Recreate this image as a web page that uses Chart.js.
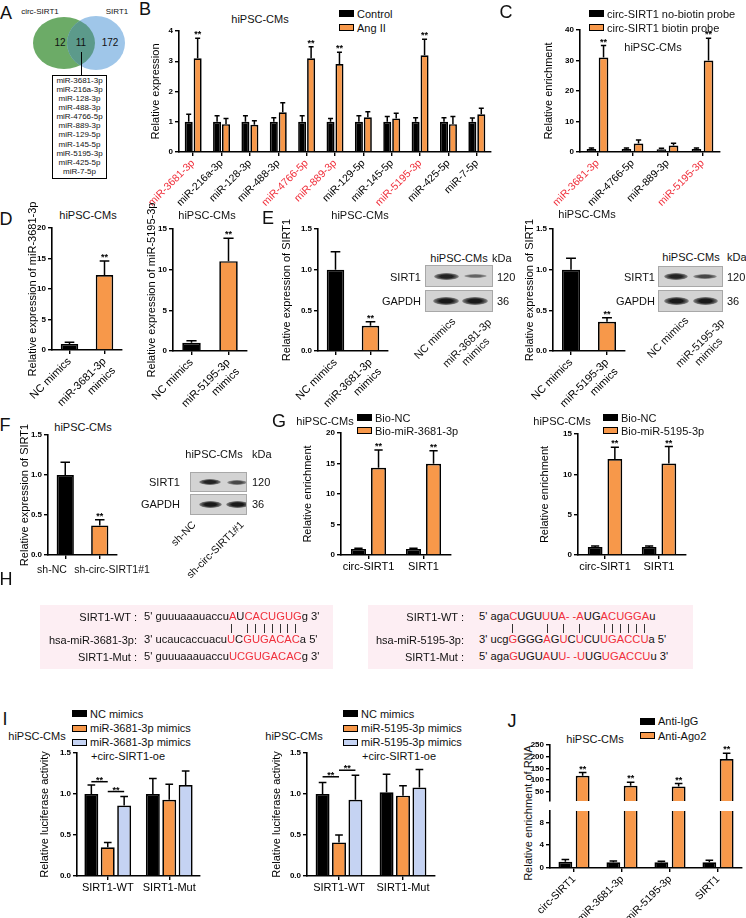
<!DOCTYPE html>
<html>
<head>
<meta charset="utf-8">
<title>circ-SIRT1 figure</title>
<script src="https://cdn.jsdelivr.net/npm/chart.js@4.4.1/dist/chart.umd.min.js"></script>
<style>
  html, body { margin: 0; padding: 0; background: #fff; }
  body { position: relative; width: 746px; height: 918px; overflow: hidden;
         font-family: "Liberation Sans", Arial, sans-serif; color: #111; }
  canvas { position: absolute; }
  .t { position: absolute; white-space: nowrap; line-height: 1; }
  .r { color: #f0303c; }
</style>
</head>
<body>
<svg style="position:absolute;left:0;top:0" width="140" height="75">
  <defs><clipPath id="cg"><ellipse cx="64" cy="43" rx="31" ry="26"/></clipPath></defs>
  <ellipse cx="64" cy="43" rx="31" ry="26" fill="#6cab67"/>
  <ellipse cx="96" cy="43" rx="29" ry="27" fill="#9fc6e9"/>
  <ellipse cx="96" cy="43" rx="29" ry="27" fill="#5c9a8b" clip-path="url(#cg)"/>
</svg>
<script>
// ---- data ----
const vennCounts = [12, 11, 172];
const vennMirs = ['miR-3681-3p','miR-216a-3p','miR-128-3p','miR-488-3p','miR-4766-5p','miR-889-3p',
                  'miR-129-5p','miR-145-5p','miR-5195-3p','miR-425-5p','miR-7-5p'];

const bCats = ['miR-3681-3p','miR-216a-3p','miR-128-3p','miR-488-3p','miR-4766-5p','miR-889-3p',
               'miR-129-5p','miR-145-5p','miR-5195-3p','miR-425-5p','miR-7-5p'];
const bRed = [0, 4, 5, 8];
const bCtrl = [1, 1, 1, 1, 1, 1, 1, 1, 1, 1, 1];
const bCtrlErr = [0.25, 0.2, 0.2, 0.13, 0.2, 0.11, 0.2, 0.17, 0.13, 0.13, 0.12];
const bAng = [3.1, 0.92, 0.9, 1.31, 3.1, 2.91, 1.15, 1.11, 3.2, 0.92, 1.25];
const bAngErr = [0.66, 0.19, 0.13, 0.32, 0.38, 0.39, 0.18, 0.17, 0.53, 0.25, 0.2];
const bSig = [1, 0, 0, 0, 1, 1, 0, 0, 1, 0, 0];

const cCats = ['miR-3681-3p','miR-4766-5p','miR-889-3p','miR-5195-3p'];
const cRed = [0, 3];
const cNo = [1, 1, 0.9, 1];
const cNoErr = [0.3, 0.3, 0.3, 0.3];
const cBio = [31, 2.8, 2.1, 30];
const cBioErr = [3.9, 1.1, 0.8, 7.3];
const cSig = [1, 0, 0, 1];

const d1Cats = ['NC mimics', ['miR-3681-3p', 'mimics']];
const d1Vals = [1.0, 12.3];
const d1Err = [0.27, 2.3];
const d2Cats = ['NC mimics', ['miR-5195-3p', 'mimics']];
const d2Vals = [1.0, 11.05];
const d2Err = [0.27, 2.8];
const twoSig = [0, 1];

const e1Vals = [1.0, 0.31];
const e1Err = [0.22, 0.05];
const e2Vals = [1.0, 0.36];
const e2Err = [0.14, 0.05];

const fCats = ['sh-NC', 'sh-circ-SIRT1#1'];
const fVals = [1.0, 0.37];
const fErr = [0.16, 0.07];

const gCats = ['circ-SIRT1', 'SIRT1'];
const g1Nc = [1.0, 1.0];
const g1NcErr = [0.12, 0.1];
const g1Mir = [14.3, 14.95];
const g1MirErr = [2.9, 2.15];
const g2Nc = [1.0, 1.0];
const g2NcErr = [0.12, 0.12];
const g2Mir = [11.9, 11.35];
const g2MirErr = [1.45, 2.1];
const gSig = [1, 1];

const hLeftNames = ['SIRT1-WT :', 'hsa-miR-3681-3p:', 'SIRT1-Mut :'];
const hLeft = ["5' guuuaaauaccu{A}U{CACUGUG}g 3'", "3' ucaucaccuacu{U}C{GUGACAC}a 5'", "5' guuuaaauaccu{UCGUGACAC}g 3'"];
const hRightNames = ['SIRT1-WT :', 'hsa-miR-5195-3p:', 'SIRT1-Mut :'];
const hRight = ["5' aga{C}UGU{U}U{A- -A}UG{ACUGGA}u", "3' ucg{G}GGG{A}G{U}C{U}CU{UGACCU}a 5'", "5' aga{G}UGU{A}U{U- -U}UG{UGACCU}u 3'"];

const iCats = ['SIRT1-WT', 'SIRT1-Mut'];
const i1Nc = [1.0, 1.0];
const i1NcErr = [0.11, 0.19];
const i1Mim = [0.35, 0.93];
const i1MimErr = [0.06, 0.19];
const i1Oe = [0.86, 1.11];
const i1OeErr = [0.11, 0.17];
const i1Brackets = [[0, 0, 1, 1.15], [0, 1, 2, 1.03]];
const i2Nc = [1.0, 1.02];
const i2NcErr = [0.14, 0.22];
const i2Mim = [0.41, 0.98];
const i2MimErr = [0.09, 0.12];
const i2Oe = [0.93, 1.08];
const i2OeErr = [0.3, 0.22];
const i2Brackets = [[0, 0, 1, 1.21], [0, 1, 2, 1.29]];

const jCats = ['circ-SIRT1', 'miR-3681-3p', 'miR-5195-3p', 'SIRT1'];
const jIgG = [1.1, 1.0, 1.0, 1.0];
const jIgGErr = [0.4, 0.25, 0.2, 0.35];
const jAgo = [118, 75, 72, 190];
const jAgoErr = [14, 15, 13, 25];
const jSig = [1, 1, 1, 1];

// ---- helpers ----
const BK = '#000', OR = '#f7984a', LB = '#c5d3f3', RED = '#f0303c';
Chart.defaults.font.family = "'Liberation Sans', Arial, sans-serif";
Chart.defaults.color = '#000';

function T(s, x, y, fs, al) {
  const d = document.createElement('div');
  d.className = 't';
  d.innerHTML = s;
  const tf = al === 'c' ? 'translate(-50%,-50%)' : al === 'r' ? 'translate(-100%,-50%)' : 'translate(0,-50%)';
  d.style.left = x + 'px';
  d.style.top = y + 'px';
  d.style.fontSize = fs + 'px';
  d.style.transform = tf;
  document.body.appendChild(d);
  return d;
}
function R(s, x, y, fs) {
  const d = document.createElement('div');
  d.className = 't';
  d.innerHTML = s;
  d.style.cssText += `left:${x}px;top:${y}px;font-size:${fs}px;text-align:center;line-height:1.1;` +
    'transform-origin:100% 0;transform:translateX(-100%) rotate(-45deg);';
  document.body.appendChild(d);
}
function L(x, y, col, label, fs) {
  const b = document.createElement('div');
  b.style.cssText = `position:absolute;left:${x}px;top:${y - 3.5}px;width:15px;height:7px;background:${col};border:1.3px solid #000;box-sizing:border-box`;
  document.body.appendChild(b);
  T(label, x + 18, y, fs || 11, 'l');
}
function box(x, y, w, h, css) {
  const d = document.createElement('div');
  d.style.cssText = `position:absolute;left:${x}px;top:${y}px;width:${w}px;height:${h}px;` + css;
  document.body.appendChild(d);
  return d;
}
function blot(x, y, w, h, bands) {
  const d = box(x, y, w, h, 'background:#d3d3d3;border:1px solid #a8a8a8;box-sizing:border-box;overflow:hidden');
  bands.forEach(([cx, bw, bh, a]) => {
    const b = document.createElement('div');
    b.style.cssText = `position:absolute;left:${cx - x - bw / 2}px;top:${h / 2 - bh / 2 - 1}px;width:${bw}px;height:${bh}px;border-radius:50%;` +
      `background:radial-gradient(ellipse at center, rgba(25,25,25,${a}) 35%, rgba(25,25,25,${a * 0.55}) 62%, rgba(25,25,25,0) 78%)`;
    d.appendChild(b);
  });
}
function seqHtml(s) {
  return s.replace(/\{([^}]*)\}/g, (m, g) => g.split('').map(ch => '<span class="r">' + ch + '</span>').join(''));
}
function pipes(el, y) {
  el.querySelectorAll('.r').forEach(s => {
    const r = s.getBoundingClientRect();
    box((r.left + r.right) / 2 - 0.5, y, 1, 9, 'background:#333');
  });
}

function errPlug(brackets) {
  return {
    id: 'errs',
    afterDatasetsDraw(chart) {
      const ctx = chart.ctx, ys = chart.scales.y;
      ctx.save();
      ctx.strokeStyle = '#000';
      ctx.fillStyle = '#000';
      ctx.lineWidth = 1.5;
      ctx.font = "bold 9px 'Liberation Sans'";
      ctx.textAlign = 'center';
      ctx.textBaseline = 'alphabetic';
      chart.data.datasets.forEach((ds, i) => {
        chart.getDatasetMeta(i).data.forEach((bar, j) => {
          const v = ds.data[j], e = ds.err ? ds.err[j] : 0;
          if (v < ys.min || v > ys.max) return;
          const yv = ys.getPixelForValue(v), yt = ys.getPixelForValue(v + e);
          const cw = Math.max(5, bar.width * 0.55);
          if (e > 0) {
            ctx.beginPath();
            ctx.moveTo(bar.x, yv); ctx.lineTo(bar.x, yt);
            ctx.moveTo(bar.x - cw / 2, yt); ctx.lineTo(bar.x + cw / 2, yt);
            ctx.stroke();
          }
          if (ds.sig && ds.sig[j]) ctx.fillText('**', bar.x, yt - 1);
        });
      });
      (brackets || []).forEach(([cat, a, b, v]) => {
        const pa = chart.getDatasetMeta(a).data[cat], pb = chart.getDatasetMeta(b).data[cat];
        const y = ys.getPixelForValue(v);
        ctx.beginPath(); ctx.moveTo(pa.x, y); ctx.lineTo(pb.x, y); ctx.stroke();
        ctx.fillText('**', (pa.x + pb.x) / 2, y + 1);
      });
      ctx.restore();
    }
  };
}

// o: canvas box (cl,ct,cr,cb) and plot area (x0,x1,y0,y1) in page pixels
function mk(o) {
  const c = document.createElement('canvas');
  c.width = o.cr - o.cl;
  c.height = o.cb - o.ct;
  c.style.left = o.cl + 'px';
  c.style.top = o.ct + 'px';
  document.body.appendChild(c);
  return new Chart(c.getContext('2d'), {
    type: 'bar',
    data: { labels: o.labels, datasets: o.sets },
    options: {
      responsive: false,
      animation: false,
      events: [],
      layout: { padding: { top: o.y0 - o.ct, right: o.cr - o.x1, bottom: o.noX ? o.cb - o.y1 : 0, left: 0 } },
      plugins: { legend: { display: false }, tooltip: { enabled: false } },
      datasets: { bar: { categoryPercentage: o.cp, barPercentage: o.bp, borderColor: '#000', borderWidth: 1.7, clip: o.clip } },
      scales: {
        x: {
          display: !o.noX,
          grid: { offset: false, drawOnChartArea: false, drawTicks: true, tickLength: 4, color: '#000', lineWidth: 1.4 },
          border: { color: '#000', width: 1.6 },
          ticks: { display: !o.noXLabels, autoSkip: false, maxRotation: o.rot || 0, minRotation: o.rot || 0, padding: 1,
                   color: o.xColor || '#000', font: { size: o.xfs || 11 } },
          afterFit: s => { s.height = o.noX ? 0 : o.cb - o.y1; s.paddingLeft = 0; s.paddingRight = 0; s.paddingTop = 0; s.paddingBottom = 0; }
        },
        y: {
          min: o.min, max: o.max,
          grid: { drawOnChartArea: false, tickLength: 4, color: '#000', lineWidth: 1.4 },
          border: { color: '#000', width: 1.6 },
          ticks: { stepSize: o.step, padding: 2, includeBounds: false, font: { size: 8, weight: 'bold' },
                   callback: o.fmt || (v => v) },
          title: o.yt ? { display: true, text: o.yt, font: { size: 11 }, padding: 0 } : { display: false },
          afterFit: s => { s.width = o.x0 - o.cl; s.paddingTop = 0; s.paddingBottom = 0; s.paddingLeft = 0; s.paddingRight = 0; }
        }
      }
    },
    plugins: [errPlug(o.br)]
  });
}
const f1 = v => v.toFixed(1);

// ---- A: Venn ----
T('A', 6, 13, 18, 'c');
T('circ-SIRT1', 40, 12, 8, 'c');
T('SIRT1', 117, 12, 8, 'c');
T(vennCounts[0], 60, 43, 10, 'c');
T(vennCounts[1], 81, 43, 10, 'c');
T(vennCounts[2], 110, 43, 10, 'c');
box(80.5, 52, 1, 23, 'background:#000');
box(52, 75, 55, 104, 'border:1px solid #000;box-sizing:border-box');
vennMirs.forEach((m, i) => T(m, 79.5, 80.5 + 9.15 * i, 8, 'c'));

// ---- B ----
T('B', 145, 9, 18, 'c');
T('hiPSC-CMs', 260, 19, 11, 'c');
L(339, 13.5, BK, 'Control');
L(339, 27.5, OR, 'Ang II');
mk({ cl: 149, ct: 20, cr: 500, cb: 210, x0: 179, x1: 491, y0: 31, y1: 152, min: 0, max: 4, step: 1,
     yt: 'Relative expression', labels: bCats, rot: 45, xfs: 10.5, cp: 0.63, bp: 0.9,
     xColor: c => bRed.includes(c.index) ? RED : '#000',
     sets: [{ data: bCtrl, err: bCtrlErr, backgroundColor: BK },
            { data: bAng, err: bAngErr, sig: bSig, backgroundColor: OR }] });

// ---- C ----
T('C', 506, 12, 18, 'c');
L(589, 13.5, BK, 'circ-SIRT1 no-biotin probe', 11);
L(589, 27.5, OR, 'circ-SIRT1 biotin probe', 11);
mk({ cl: 542, ct: 20, cr: 735, cb: 210, x0: 580, x1: 720, y0: 30, y1: 152, min: 0, max: 40, step: 10,
     yt: 'Relative enrichment', labels: cCats, rot: 45, xfs: 10.5, cp: 0.69, bp: 0.8,
     xColor: c => cRed.includes(c.index) ? RED : '#000',
     sets: [{ data: cNo, err: cNoErr, backgroundColor: BK },
            { data: cBio, err: cBioErr, sig: cSig, backgroundColor: OR }] });
T('hiPSC-CMs', 653, 47, 11, 'c');

// ---- D ----
T('D', 6, 219, 18, 'c');
T('hiPSC-CMs', 88, 215, 11, 'c');
T('hiPSC-CMs', 207, 215, 11, 'c');
mk({ cl: 26, ct: 190, cr: 135, cb: 415, x0: 52, x1: 122, y0: 228, y1: 350, min: 0, max: 20, step: 5,
     yt: 'Relative expression of miR-3681-3p', labels: d1Cats, rot: 45, cp: 1, bp: 0.5,
     sets: [{ data: d1Vals, err: d1Err, sig: twoSig, backgroundColor: [BK, OR] }] });
mk({ cl: 145, ct: 190, cr: 255, cb: 415, x0: 173, x1: 247, y0: 229, y1: 351, min: 0, max: 15, step: 5,
     yt: 'Relative expression of miR-5195-3p', labels: d2Cats, rot: 45, cp: 1, bp: 0.5,
     sets: [{ data: d2Vals, err: d2Err, sig: twoSig, backgroundColor: [BK, OR] }] });

// ---- E ----
T('E', 268, 218, 18, 'c');
T('hiPSC-CMs', 360, 215, 11, 'c');
T('hiPSC-CMs', 587, 214, 11, 'c');
mk({ cl: 280, ct: 190, cr: 395, cb: 415, x0: 318, x1: 388, y0: 229, y1: 351, min: 0, max: 1.5, step: 0.5, fmt: f1,
     yt: 'Relative expression of SIRT1', labels: d1Cats, rot: 45, cp: 1, bp: 0.5,
     sets: [{ data: e1Vals, err: e1Err, sig: twoSig, backgroundColor: [BK, OR] }] });
mk({ cl: 523, ct: 190, cr: 632, cb: 415, x0: 553, x1: 625, y0: 229, y1: 351, min: 0, max: 1.5, step: 0.5, fmt: f1,
     yt: 'Relative expression of SIRT1', labels: d2Cats, rot: 45, cp: 1, bp: 0.5,
     sets: [{ data: e2Vals, err: e2Err, sig: twoSig, backgroundColor: [BK, OR] }] });
// E blots
T('hiPSC-CMs', 459, 258, 11, 'c'); T('kDa', 492, 258, 11, 'l');
blot(425, 265, 68, 22, [[445, 25, 7, 0.95], [474, 23, 4, 0.6]]);
blot(425, 290, 68, 22, [[445, 26, 8, 1], [474, 26, 8, 1]]);
T('SIRT1', 421, 277, 11, 'r'); T('GAPDH', 421, 301, 11, 'r');
T('120', 497, 277, 11, 'l'); T('36', 497, 301, 11, 'l');
R('NC mimics', 449, 315, 11); R('miR-3681-3p<br>mimics', 485, 316, 11);
T('hiPSC-CMs', 691, 257, 11, 'c'); T('kDa', 727, 257, 11, 'l');
blot(658, 266, 65, 21, [[675, 24, 7, 0.95], [704, 24, 5, 0.75]]);
blot(658, 290, 65, 22, [[675, 25, 8, 1], [704, 25, 8, 1]]);
T('SIRT1', 655, 277, 11, 'r'); T('GAPDH', 655, 301, 11, 'r');
T('120', 727, 277, 11, 'l'); T('36', 727, 301, 11, 'l');
R('NC mimics', 682, 314, 11); R('miR-5195-3p<br>mimics', 718, 316, 11);

// ---- F ----
T('F', 5, 425, 18, 'c');
T('hiPSC-CMs', 83, 427, 11, 'c');
mk({ cl: 18, ct: 410, cr: 125, cb: 580, x0: 48, x1: 117, y0: 435, y1: 555, min: 0, max: 1.5, step: 0.5, fmt: f1,
     yt: 'Relative expression of SIRT1', labels: fCats, noXLabels: true, cp: 1, bp: 0.5,
     sets: [{ data: fVals, err: fErr, sig: twoSig, backgroundColor: [BK, OR] }] });
T(fCats[0], 52, 569, 10.5, 'c');
T(fCats[1], 112, 569, 10.5, 'c');
T('hiPSC-CMs', 214, 454, 11, 'c'); T('kDa', 252, 454, 11, 'l');
blot(190, 472, 57, 20, [[209, 22, 6, 0.95], [236, 20, 5, 0.75]]);
blot(190, 494, 57, 21, [[209, 23, 7, 1], [236, 23, 7, 1]]);
T('SIRT1', 180, 482, 11, 'r'); T('GAPDH', 180, 504, 11, 'r');
T('120', 252, 482, 11, 'l'); T('36', 252, 504, 11, 'l');
R('sh-NC', 190, 519, 10.5); R('sh-circ-SIRT1#1', 238, 519, 10.5);

// ---- G ----
T('G', 279, 421, 18, 'c');
T('hiPSC-CMs', 325, 421, 11, 'c');
L(357, 417.5, BK, 'Bio-NC');
L(357, 430.5, OR, 'Bio-miR-3681-3p');
mk({ cl: 301, ct: 415, cr: 460, cb: 585, x0: 341, x1: 451, y0: 433, y1: 555, min: 0, max: 20, step: 5,
     yt: 'Relative enrichment', labels: gCats, cp: 0.73, bp: 0.75,
     sets: [{ data: g1Nc, err: g1NcErr, backgroundColor: BK },
            { data: g1Mir, err: g1MirErr, sig: gSig, backgroundColor: OR }] });
T('hiPSC-CMs', 562, 421, 11, 'c');
L(603, 417.5, BK, 'Bio-NC');
L(603, 430.5, OR, 'Bio-miR-5195-3p');
mk({ cl: 538, ct: 415, cr: 695, cb: 585, x0: 578, x1: 686, y0: 434, y1: 555, min: 0, max: 15, step: 5,
     yt: 'Relative enrichment', labels: gCats, cp: 0.73, bp: 0.75,
     sets: [{ data: g2Nc, err: g2NcErr, backgroundColor: BK },
            { data: g2Mir, err: g2MirErr, sig: gSig, backgroundColor: OR }] });

// ---- H ----
T('H', 6, 579, 18, 'c');
box(40, 605, 293, 64, 'background:#fdeef3');
box(368, 605, 325, 64, 'background:#fdeef3');
const hY = [617, 640, 657];
hLeft.forEach((s, i) => {
  T(hLeftNames[i], 137, hY[i], 11, 'r');
  const el = T(seqHtml(s), 144, hY[i], 11.2, 'l');
  if (i === 1) pipes(el, 624);
});
hRight.forEach((s, i) => {
  T(hRightNames[i], 464, hY[i], 11, 'r');
  const el = T(seqHtml(s), 479, hY[i], 11.2, 'l');
  if (i === 1) pipes(el, 624);
});

// ---- I ----
T('I', 5, 719, 18, 'c');
T('hiPSC-CMs', 37, 736, 11, 'c');
L(72, 713.5, BK, 'NC mimics');
L(72, 728, OR, 'miR-3681-3p mimics');
L(72, 742, LB, 'miR-3681-3p mimics');
T('+circ-SIRT1-oe', 91, 756, 11, 'l');
mk({ cl: 38, ct: 745, cr: 210, cb: 905, x0: 77, x1: 200, y0: 753, y1: 876, min: 0, max: 1.5, step: 0.5, fmt: f1,
     yt: 'Relative luciferase activity', labels: iCats, cp: 0.8, bp: 0.85, br: i1Brackets,
     sets: [{ data: i1Nc, err: i1NcErr, backgroundColor: BK },
            { data: i1Mim, err: i1MimErr, backgroundColor: OR },
            { data: i1Oe, err: i1OeErr, backgroundColor: LB }] });
T('hiPSC-CMs', 294, 736, 11, 'c');
L(343, 713.5, BK, 'NC mimics');
L(343, 728, OR, 'miR-5195-3p mimics');
L(343, 742, LB, 'miR-5195-3p mimics');
T('+circ-SIRT1-oe', 362, 756, 11, 'l');
mk({ cl: 270, ct: 745, cr: 442, cb: 905, x0: 307, x1: 435, y0: 753, y1: 876, min: 0, max: 1.5, step: 0.5, fmt: f1,
     yt: 'Relative luciferase activity', labels: iCats, cp: 0.77, bp: 0.85, br: i2Brackets,
     sets: [{ data: i2Nc, err: i2NcErr, backgroundColor: BK },
            { data: i2Mim, err: i2MimErr, backgroundColor: OR },
            { data: i2Oe, err: i2OeErr, backgroundColor: LB }] });

// ---- J (broken axis: two stacked charts) ----
T('J', 512, 721, 18, 'c');
T('hiPSC-CMs', 595, 739, 11, 'c');
L(640, 721, BK, 'Anti-IgG');
L(640, 735.5, OR, 'Anti-Ago2');
const jt = T('Relative enrichment of RNA', 528, 813, 11, 'c');
jt.style.transform = 'translate(-50%,-50%) rotate(-90deg)';
mk({ cl: 529, ct: 735, cr: 746, cb: 803, x0: 550, x1: 742, y0: 745, y1: 801, min: 10, max: 250, step: 50,
     labels: jCats, noX: true, cp: 0.72, bp: 0.8, clip: 0,
     sets: [{ data: jIgG, err: jIgGErr, backgroundColor: BK },
            { data: jAgo, err: jAgoErr, sig: jSig, backgroundColor: OR }] });
mk({ cl: 529, ct: 805, cr: 746, cb: 918, x0: 550, x1: 742, y0: 811, y1: 868, min: 0, max: 10, step: 2,
     labels: jCats, rot: 45, xfs: 10.5, cp: 0.72, bp: 0.8, clip: 0,
     sets: [{ data: jIgG, err: jIgGErr, backgroundColor: BK },
            { data: jAgo, err: jAgoErr, backgroundColor: OR }] });
</script>
</body>
</html>
